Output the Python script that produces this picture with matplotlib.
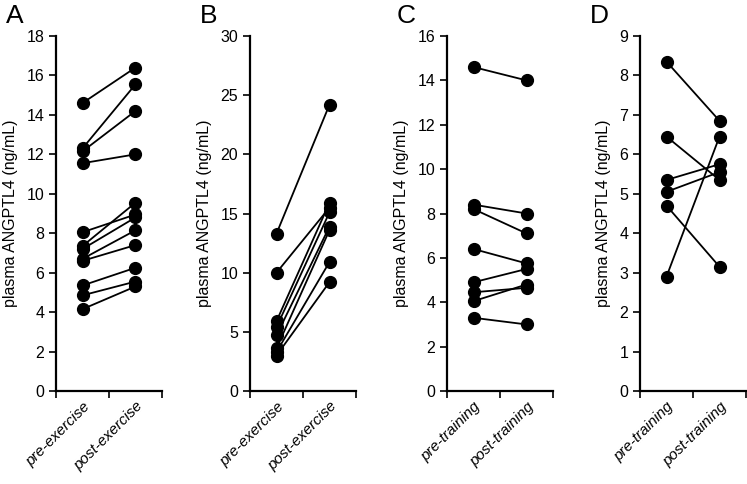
import matplotlib
matplotlib.use('Agg')
import matplotlib.pyplot as plt

plt.rcParams['font.family'] = ['Liberation Sans', 'DejaVu Sans']

# paired values (pre, post)
a_pre = [14.6, 12.3, 12.15, 11.55, 8.05, 7.35, 7.2, 6.7, 6.6, 5.35, 4.85, 4.15]
a_post = [16.4, 15.55, 14.2, 12.0, 8.95, 9.55, 8.8, 8.15, 7.4, 6.25, 5.55, 5.3]

b_pre = [13.3, 10.0, 5.9, 5.4, 4.7, 3.6, 3.3, 3.0]
b_post = [24.2, 15.5, 15.9, 15.1, 13.9, 13.6, 10.9, 9.2]

c_pre = [14.6, 8.4, 8.2, 6.4, 4.9, 4.45, 4.05, 3.3]
c_post = [14.0, 8.0, 7.1, 5.75, 5.5, 4.65, 4.8, 3.0]

d_pre = [8.35, 6.45, 5.35, 5.05, 4.7, 2.9]
d_post = [6.85, 5.35, 5.75, 5.55, 3.15, 6.45]

exercise_labels = ['pre-exercise', 'post-exercise']
training_labels = ['pre-training', 'post-training']

panels = [
    ('A', a_pre, a_post, exercise_labels, 18, 2),
    ('B', b_pre, b_post, exercise_labels, 30, 5),
    ('C', c_pre, c_post, training_labels, 16, 2),
    ('D', d_pre, d_post, training_labels, 9, 1),
]

W, H = 747, 484
fig = plt.figure(figsize=(W / 100, H / 100), dpi=100)

lefts = [56, 250, 447, 640]
width = 106
bottom, top = 391, 36

for (letter, pre, post, labels, ymax, step), left in zip(panels, lefts):
    ax = fig.add_axes([left / W, 1 - bottom / H, width / W, (bottom - top) / H])
    for p0, p1 in zip(pre, post):
        ax.plot([0.5, 1.5], [p0, p1], color='black', lw=1.3,
                marker='o', markersize=8.5, clip_on=False)
    ax.set_xlim(0, 2)
    ax.set_ylim(0, ymax)
    ax.set_yticks(range(0, ymax + 1, step))
    ax.set_xticks([0, 1, 2])
    ax.set_xticklabels([])
    ax.set_xticks([0.5, 1.5], minor=True)
    ax.set_xticklabels(labels, minor=True, rotation=45, ha='right',
                       rotation_mode='anchor', style='italic', fontsize=11)
    ax.tick_params(axis='x', which='minor', length=0, pad=6)
    ax.tick_params(axis='both', which='major', direction='out', length=5,
                   width=1.2, labelsize=11.5, colors='black')
    for side in ['top', 'right']:
        ax.spines[side].set_visible(False)
    for side in ['left', 'bottom']:
        ax.spines[side].set_linewidth(1.6)
    ax.set_ylabel('plasma ANGPTL4 (ng/mL)', fontsize=11.5, labelpad=6)
    fig.text((left - 50) / W, 1 - 16 / H, letter, fontsize=19,
             ha='left', va='center')

fig.savefig('out.png', dpi=100)
